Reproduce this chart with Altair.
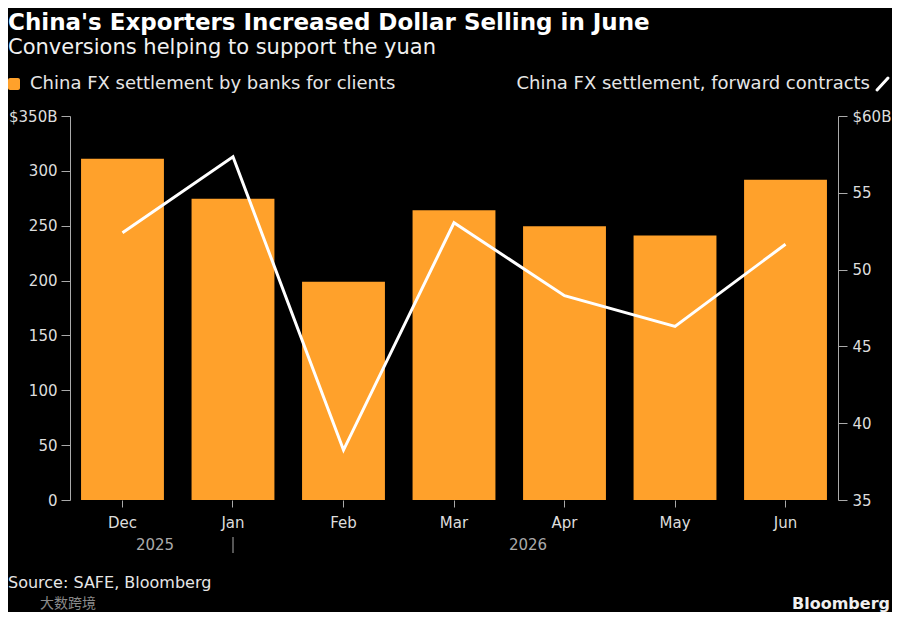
import altair as alt
import pandas as pd

months = ["Dec", "Jan", "Feb", "Mar", "Apr", "May", "Jun"]
settlement = [311, 274.5, 199, 264, 249.5, 241, 292]
forward = [52.4, 57.35, 38.25, 53.05, 48.3, 46.3, 51.65]

left_ticks = [0, 50, 100, 150, 200, 250, 300, 350]
right_ticks = [35, 40, 45, 50, 55, 60]

title_text = "China's Exporters Increased Dollar Selling in June"
subtitle_text = "Conversions helping to support the yuan"
legend_bar = "China FX settlement by banks for clients"
legend_line = "China FX settlement, forward contracts"
source_text = "Source: SAFE, Bloomberg"

df = pd.DataFrame({"month": months, "settlement": settlement, "forward": forward})

FONT = "DejaVu Sans"
ORANGE = "#FFA12B"
AXC = "#aaaaaa"
LBL = "#dddddd"
W, H = 768, 384

x_enc = alt.X("month:N", sort=months,
              scale=alt.Scale(paddingInner=0.25, paddingOuter=0.1),
              axis=alt.Axis(title=None, labelAngle=0, domain=False, ticks=True,
                            tickSize=7, tickColor=AXC, labelColor=LBL,
                            labelFontSize=15, labelPadding=8, labelFont=FONT))

bars = alt.Chart(df).mark_bar(color=ORANGE).encode(
    x=x_enc,
    y=alt.Y("settlement:Q", scale=alt.Scale(domain=[0, 350], nice=False, zero=True),
            axis=alt.Axis(title=None, orient="left", values=left_ticks, grid=False,
                          domain=True, domainColor=AXC, tickColor=AXC,
                          tickSize=9, labelColor=LBL, labelFontSize=15,
                          labelFont=FONT, labelPadding=4,
                          labelExpr="datum.value == 350 ? '$350B' : datum.label")),
)

line = alt.Chart(df).mark_line(color="white", strokeWidth=3).encode(
    x=alt.X("month:N", sort=months),
    y=alt.Y("forward:Q", scale=alt.Scale(domain=[35, 60], nice=False, zero=False),
            axis=alt.Axis(title=None, orient="right", values=right_ticks, grid=False,
                          domain=True, domainColor=AXC, tickColor=AXC,
                          tickSize=9, labelColor=LBL, labelFontSize=15,
                          labelFont=FONT, labelPadding=5,
                          labelExpr="datum.value == 60 ? '$60B' : datum.label")),
)

one = pd.DataFrame({"a": [0]})


def txt(t, x, y, size, color, align="left", weight="normal", baseline="middle", font=FONT):
    return alt.Chart(one).mark_text(
        text=t, align=align, baseline=baseline, fontSize=size, color=color,
        fontWeight=weight, font=font
    ).encode(x=alt.value(x), y=alt.value(y))


title = txt(title_text, -62, -86, 23, "white", weight="bold", baseline="alphabetic")
subtitle = txt(subtitle_text, -62, -68, 21, "#f0f0f0")
leg1_sq = alt.Chart(one).mark_rect(color=ORANGE, cornerRadius=2).encode(
    x=alt.value(-62), x2=alt.value(-50), y=alt.value(-38), y2=alt.value(-26))
leg1_txt = txt(legend_bar, -40, -32, 18, "#e6e6e6")
leg2_txt = txt(legend_line, 800, -32, 18, "#e6e6e6", align="right")
leg2_icon = alt.Chart(one).mark_rule(color="white", strokeWidth=3, strokeCap="round").encode(
    x=alt.value(807), x2=alt.value(818), y=alt.value(-26), y2=alt.value(-38))

yr1 = txt("2025", 85, 429, 15, AXC, align="center")
yr2 = txt("2026", 458, 429, 15, AXC, align="center")
sep = alt.Chart(one).mark_rule(color=AXC, strokeWidth=1).encode(
    x=alt.value(163), y=alt.value(421), y2=alt.value(437))
source = txt(source_text, -62, 467, 16, "#e6e6e6")
wm = txt("大数跨境", -30, 488, 14, "#8a8a8a", font="Noto Sans CJK SC")
brand = txt("Bloomberg", 820, 488, 16, "#f0f0f0", align="right", weight="bold")

chart = alt.layer(
    bars, line, title, subtitle, leg1_sq, leg1_txt, leg2_txt, leg2_icon,
    yr1, yr2, sep, source, wm, brand
).resolve_scale(y="independent").properties(
    width=W, height=H,
    autosize=alt.AutoSizeParams(type="none"),
    padding={"left": 62, "top": 108, "right": 54, "bottom": 112},
    background="black",
).configure_view(stroke=None)

chart.save("out.html", embed_options={"renderer": "svg", "actions": False})
